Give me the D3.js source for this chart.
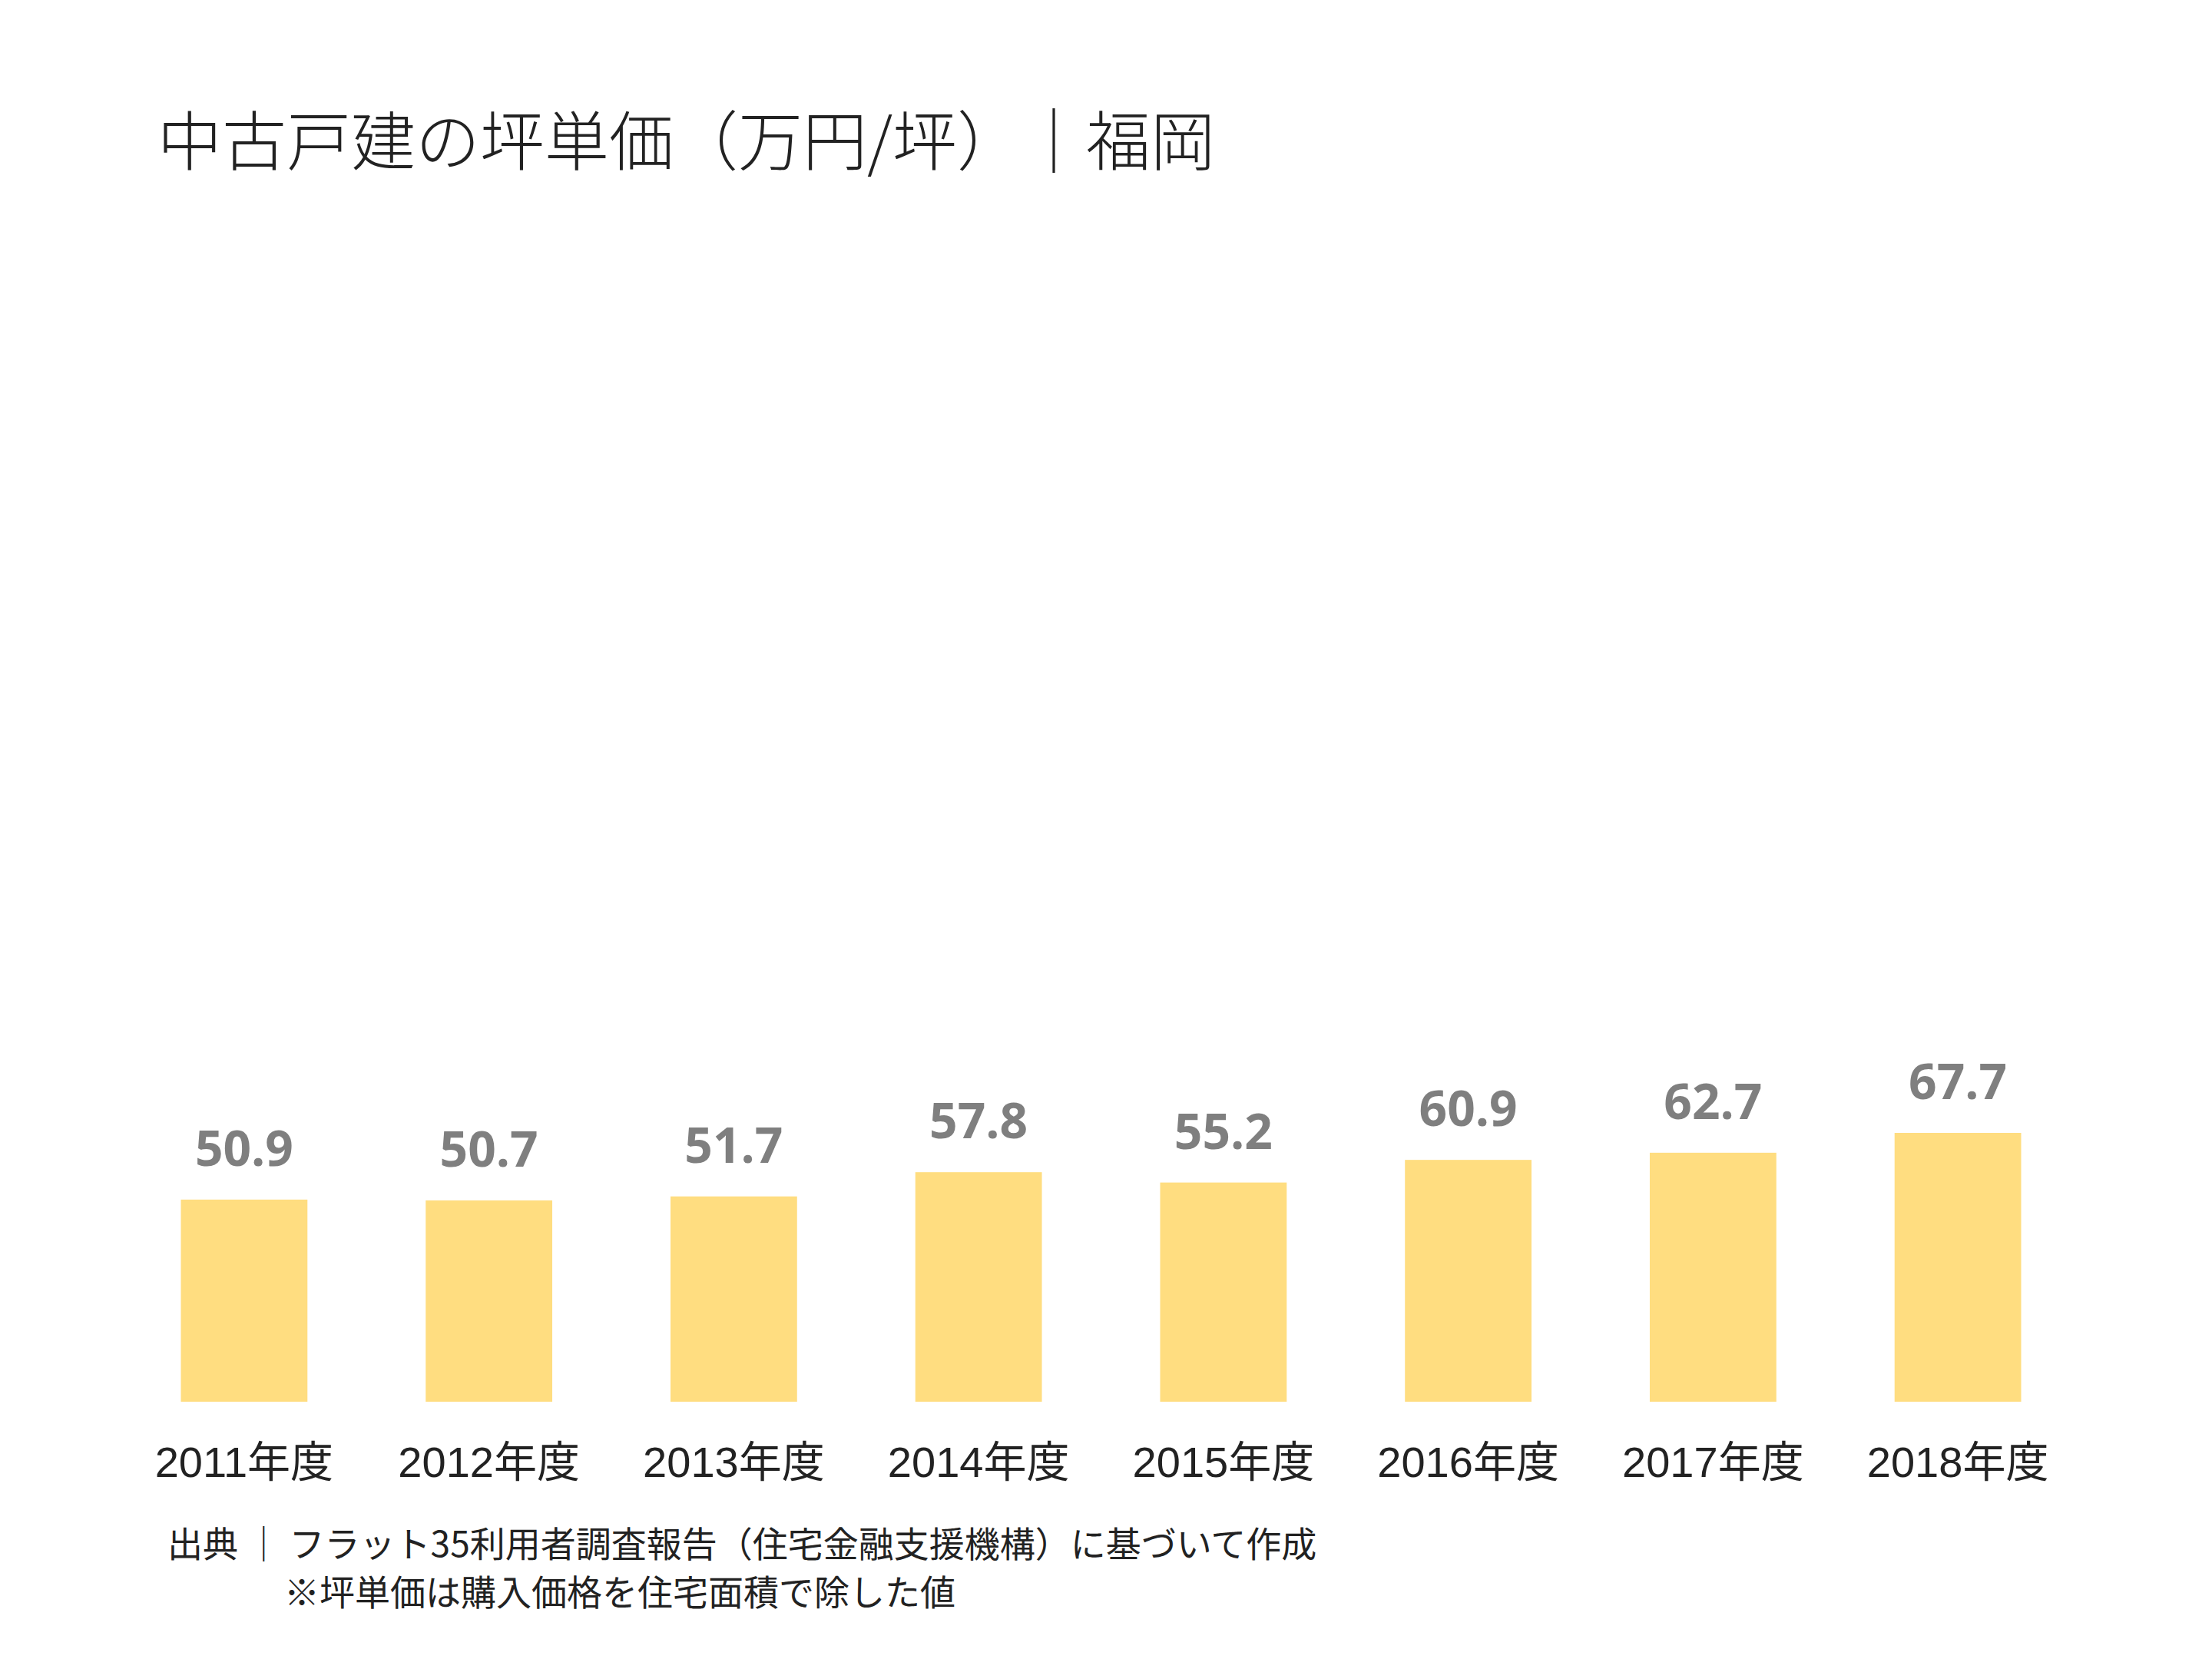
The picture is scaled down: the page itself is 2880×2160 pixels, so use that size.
<!DOCTYPE html>
<html><head><meta charset="utf-8">
<script src="https://cdn.jsdelivr.net/npm/d3@7"></script>
<style>body{margin:0;background:#fff}</style></head>
<body><svg id="c" width="2880" height="2160"></svg>
<script>
const categories=["2011年度","2012年度","2013年度","2014年度","2015年度","2016年度","2017年度","2018年度"];
const values=[50.9,50.7,51.7,57.8,55.2,60.9,62.7,67.7];
const svg=d3.select("#c");
const x=d3.scaleBand().domain(categories).range([159,2708]).paddingInner(0.483).paddingOuter(0.24);
const y=d3.scaleLinear().domain([0,100]).range([1825,1308]);
svg.append("text").attr("x",205).attr("y",215).attr("font-family","Noto Sans CJK JP").attr("font-weight",300)
 .attr("font-size",84).attr("fill","#222").text("中古戸建の坪単価（万円/坪）｜福岡");
svg.selectAll("rect.b").data(values).join("rect").attr("x",(d,i)=>x(categories[i])).attr("width",x.bandwidth())
 .attr("y",d=>y(d)).attr("height",d=>y(0)-y(d)).attr("fill","#ffdd80");
svg.selectAll("text.v").data(values).join("text").attr("x",(d,i)=>x(categories[i])+x.bandwidth()/2)
 .attr("y",d=>y(d)-44).attr("text-anchor","middle").attr("font-family","Open Sans").attr("font-weight",700)
 .attr("font-size",64).attr("fill","#7f7f7f").text(d=>d.toFixed(1));
const ax=svg.append("g").attr("transform","translate(0,1825)").call(d3.axisBottom(x).tickSize(0).tickPadding(58));
ax.select(".domain").remove();
ax.selectAll("text").attr("font-family","Liberation Sans, Noto Sans CJK JP").attr("font-size",56).attr("fill","#222");
svg.append("text").attr("x",218).attr("y",2027).attr("font-family","Noto Sans CJK JP").attr("font-size",46).attr("fill","#222")
 .text("出典 ｜ フラット35利用者調査報告（住宅金融支援機構）に基づいて作成");
svg.append("text").attr("x",370).attr("y",2090).attr("font-family","Noto Sans CJK JP").attr("font-size",46).attr("fill","#222")
 .text("※坪単価は購入価格を住宅面積で除した値");
</script></body></html>
